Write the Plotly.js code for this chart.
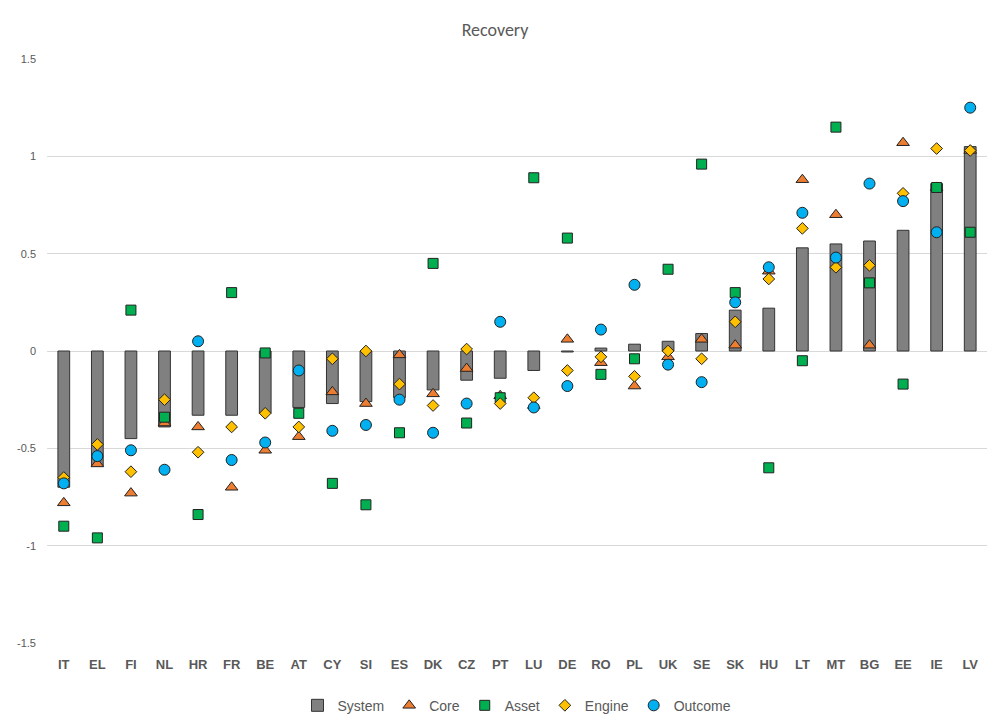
<!DOCTYPE html>
<html><head><script src="https://cdn.plot.ly/plotly-3.0.1.min.js"></script></head>
<body style="margin:0"><div id="c" style="width:990px;height:727px"></div>
<script>
const countries=["IT","EL","FI","NL","HR","FR","BE","AT","CY","SI","ES","DK","CZ","PT","LU","DE","RO","PL","UK","SE","SK","HU","LT","MT","BG","EE","IE","LV"];
const system=[-0.70,-0.59,-0.45,-0.39,-0.33,-0.33,-0.32,-0.29,-0.27,-0.26,-0.24,-0.20,-0.15,-0.14,-0.10,-0.005,0.015,0.035,0.05,0.09,0.21,0.22,0.53,0.55,0.565,0.62,0.86,1.05];
const core=[-0.78,-0.58,-0.73,-0.37,-0.39,-0.70,-0.51,-0.44,-0.21,-0.27,-0.02,-0.22,-0.09,-0.23,-0.28,0.06,-0.06,-0.18,-0.03,0.06,0.03,0.41,0.88,0.70,0.03,1.07,0.84,1.03];
const asset=[-0.90,-0.96,0.21,-0.34,-0.84,0.30,-0.01,-0.32,-0.68,-0.79,-0.42,0.45,-0.37,-0.24,0.89,0.58,-0.12,-0.04,0.42,0.96,0.30,-0.60,-0.05,1.15,0.35,-0.17,0.84,0.61];
const engine=[-0.65,-0.48,-0.62,-0.25,-0.52,-0.39,-0.32,-0.39,-0.04,0.00,-0.17,-0.28,0.01,-0.27,-0.24,-0.10,-0.03,-0.13,0.00,-0.04,0.15,0.37,0.63,0.43,0.44,0.81,1.04,1.03];
const outcome=[-0.68,-0.54,-0.51,-0.61,0.05,-0.56,-0.47,-0.10,-0.41,-0.38,-0.25,-0.42,-0.27,0.15,-0.29,-0.18,0.11,0.34,-0.07,-0.16,0.25,0.43,0.71,0.48,0.86,0.77,0.61,1.25];
const ln={color:'#222',width:1};
const sc=(n,y,sym,col,sz)=>({type:'scatter',mode:'markers',name:n,x:countries,y:y,marker:{symbol:sym,color:col,size:sz,line:ln}});
const data=[
 {type:'bar',name:'System',x:countries,y:system,width:0.35,marker:{color:'#808080',line:{color:'#333',width:1}}},
 sc('Core',core,'triangle-up','#ED7D31',11),
 sc('Asset',asset,'square','#00B050',10),
 sc('Engine',engine,'diamond','#FFC000',9),
 sc('Outcome',outcome,'circle','#00B0F0',11)
];
const layout={width:990,height:727,margin:{l:47,r:3,t:59,b:84},
 title:{text:'Recovery',font:{family:'Calibri, Carlito, Liberation Sans, sans-serif',size:18,color:'#595959'},x:0.5,xanchor:'center',y:0.968},
 font:{family:'Liberation Sans, sans-serif',color:'#595959',size:11},
 showlegend:true,legend:{orientation:'h',x:0.5,xanchor:'center',y:-0.08,font:{size:14}},
 xaxis:{type:'category',range:[-0.5,27.5],showgrid:false,ticklabelstandoff:12,tickfont:{size:13,color:'#595959',weight:'bold'},zeroline:false,automargin:false},
 yaxis:{range:[-1.5,1.5],gridcolor:'#d9d9d9',zeroline:true,zerolinecolor:'#d9d9d9',automargin:false,ticklabelstandoff:10,tickvals:[-1.5,-1,-0.5,0,0.5,1,1.5],ticktext:['-1.5','-1','-0.5','0','0.5','1','1.5']},
 plot_bgcolor:'white'};
Plotly.newPlot('c',data,layout,{displayModeBar:false});
</script></body></html>
